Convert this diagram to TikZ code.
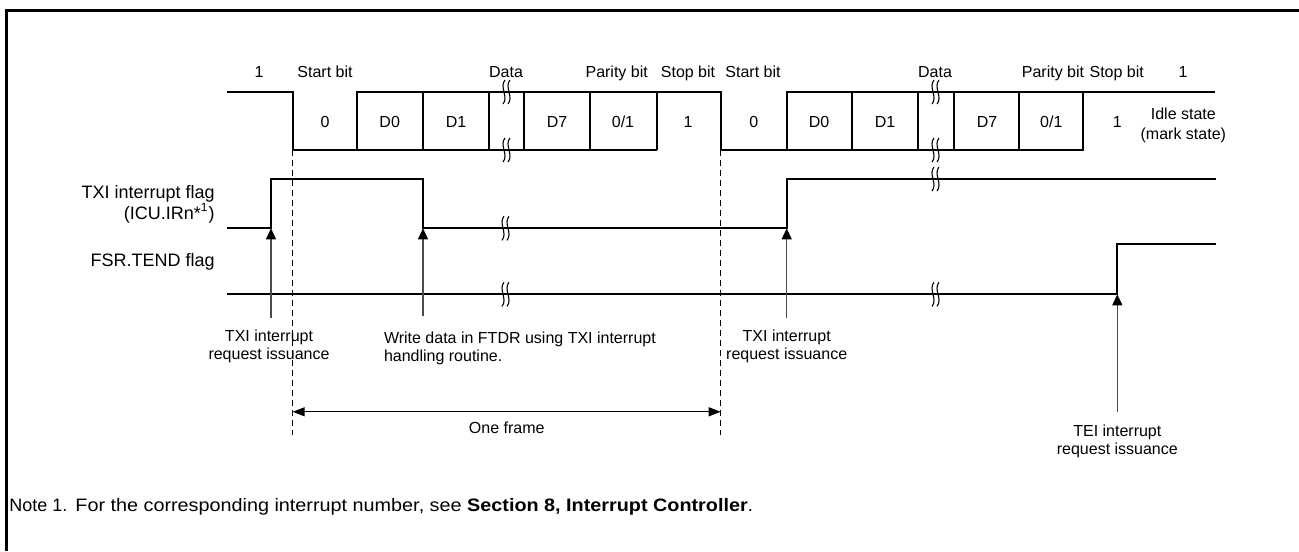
\documentclass[tikz,border=0pt]{standalone}
\usepackage{fontspec}
\usepackage{graphicx}
\setmainfont{Liberation Sans}
\usetikzlibrary{arrows.meta}
\begin{document}
\begin{tikzpicture}[x=0.5pt,y=-0.5pt,
  font=\fontsize{8}{9.6}\selectfont,
  sig/.style={line width=1pt,line join=miter},
  brkline/.style={line width=0.55pt},
  txt/.style={inner sep=0pt,anchor=base},
  txtr/.style={inner sep=0pt,anchor=base east,font=\fontsize{9}{10.8}\selectfont},
  txtl/.style={inner sep=0pt,anchor=base west},
  evarrow/.style={line width=0.6pt,draw=black!70,-{Triangle[length=5.5pt,width=5pt,fill=black,color=black]}},
  frmarrow/.style={line width=0.6pt,{Triangle[length=6pt,width=4.5pt]}-{Triangle[length=6pt,width=4.5pt]}},
  dashline/.style={line width=0.5pt,dash pattern=on 3pt off 2pt}]
\useasboundingbox (0,0) rectangle (1299,551);
\newcommand\brkmark[2]{%
  \draw[brkline] (#1+1,#2-12) .. controls (#1-5,#2-5) and (#1+5,#2+5) .. (#1-1,#2+12);
  \draw[brkline] (#1+6,#2-12) .. controls (#1,#2-5) and (#1+10,#2+5) .. (#1+4,#2+12);}
% frame
\draw[line width=1.5pt] (6,551) -- (6,11) -- (1299,11);
% ---- serial data waveform
\draw[sig] (227,92) -- (292.7,92) -- (292.7,150) -- (656.7,150);
\draw[sig] (356.7,150) -- (356.7,92) -- (720.7,92) -- (720.7,150) -- (1083.3,150) -- (1083.3,92);
\draw[sig] (786.7,150) -- (786.7,92) -- (1215,92);
\foreach \xx in {422.7,489,524.3,590,656.7,852,918.3,954,1019.3}
  \draw[sig] (\xx,92) -- (\xx,150);
\brkmark{504}{92}\brkmark{504}{150}
\brkmark{933}{92}\brkmark{933}{150}
% top labels
\node[txt] (l1) at (259,78) {1};
\node[txt] (ls1) at (325,78) {Start bit};
\node[txt] (ld1) at (506,78) {Data};
\node[txt] (lp1) at (616.7,78) {Parity bit};
\node[txt] (lt1) at (688,78) {Stop bit};
\node[txt] (ls2) at (753,78) {Start bit};
\node[txt] (ld2) at (935,78) {Data};
\node[txt] (lp2) at (1053,78) {Parity bit};
\node[txt] (lt2) at (1116.7,78) {Stop bit};
\node[txt] (l2) at (1183,78) {1};
% bit values
\node[txt] (b1) at (325,127.5) {0};
\node[txt] (b2) at (389.7,127.5) {D0};
\node[txt] (b3) at (456,127.5) {D1};
\node[txt] (b4) at (557,127.5) {D7};
\node[txt] (b5) at (623,127.5) {0/1};
\node[txt] (b6) at (688,127.5) {1};
\node[txt] (b7) at (753.7,127.5) {0};
\node[txt] (b8) at (819,127.5) {D0};
\node[txt] (b9) at (885,127.5) {D1};
\node[txt] (b10) at (987,127.5) {D7};
\node[txt] (b11) at (1051.3,127.5) {0/1};
\node[txt] (b12) at (1117.3,127.5) {1};
\node[txt] (idle1) at (1183.3,119.5) {Idle state};
\node[txt] (idle2) at (1183.3,139.5) {(mark state)};
% ---- TXI interrupt flag
\node[txtr] (txil1) at (215,198) {TXI interrupt flag};
\node[txtr] (txil2) at (215,219.6) {(ICU.IRn*\textsuperscript{1})};
\draw[sig] (227,228.3) -- (271,228.3) coordinate (txiup) -- (271,179) -- (423,179) -- (423,228.3) coordinate (txidn) -- (786.7,228.3) coordinate (txiup2) -- (786.7,179) -- (1216,179);
\brkmark{503}{228.3}\brkmark{933}{179}
% ---- FSR.TEND flag
\node[txtr] (fsrl) at (215,266.5) {FSR.TEND flag};
\draw[sig] (227,294.3) -- (1117.3,294.3) coordinate (tendup) -- (1117.3,244.3) -- (1216,244.3);
\brkmark{503}{294.3}\brkmark{933}{294.3}
% ---- frame boundaries
\coordinate (fa) at (292.7,150);
\coordinate (fb) at (720.7,150);
\draw[dashline] (fa) -- (292.7,435);
\draw[dashline] (fb) -- (720.7,435);
\coordinate (fa2) at (292.7,411.8);
\coordinate (fb2) at (720.7,411.8);
\draw[frmarrow] (fa2) -- (fb2);
\node[txt] (oneframe) at (506.7,433.5) {One frame};
% ---- event labels and arrows
\node[txt] (e1a) at (269,341) {TXI interrupt};
\node[txt] (e1b) at (269,359.5) {request issuance};
\node[txtl] (e2a) at (383.6,343) {Write data in FTDR using TXI interrupt};
\node[txtl] (e2b) at (383.6,361.5) {handling routine.};
\node[txt] (e3a) at (786.7,341) {TXI interrupt};
\node[txt] (e3b) at (786.7,359.5) {request issuance};
\node[txt] (e4a) at (1117.3,436.5) {TEI interrupt};
\node[txt] (e4b) at (1117.3,454.5) {request issuance};
\coordinate (e1t) at (271,318);
\coordinate (e2t) at (423,316);
\coordinate (e3t) at (786.7,318);
\coordinate (e4t) at (1117.3,412);
\draw[evarrow] (e1t) -- (txiup);
\draw[evarrow] (e2t) -- (txidn);
\draw[evarrow] (e3t) -- (txiup2);
\draw[evarrow] (e4t) -- (tendup);
% ---- note
\node[txtl] (note) at (9,511) {\fontsize{9}{10.8}\selectfont Note 1.};
\node[txtl] (notetext) at (75,511) {\scalebox{1.1}[1]{\fontsize{9}{10.8}\selectfont For the corresponding interrupt number, see \textbf{Section 8, Interrupt Controller}.}};
\end{tikzpicture}
\end{document}
